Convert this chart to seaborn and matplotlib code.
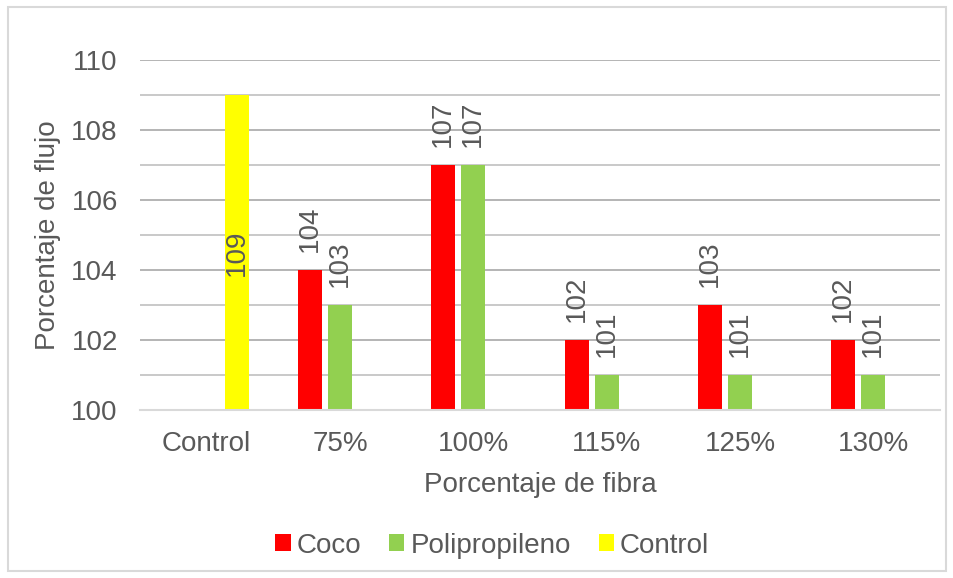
import matplotlib
matplotlib.use("Agg")
import matplotlib.pyplot as plt
from matplotlib.patches import Rectangle, Patch
from matplotlib.ticker import MultipleLocator
import seaborn as sns
import pandas as pd

# Flow percentage by fibre percentage and fibre type
categories = ["Control", "75%", "100%", "115%", "125%", "130%"]
series = ["Coco", "Polipropileno", "Control"]
coco = [None, 104, 107, 102, 103, 102]
polipropileno = [None, 103, 107, 101, 101, 101]
control = [109, None, None, None, None, None]

colors = {"Coco": "#FF0000", "Polipropileno": "#92D050", "Control": "#FFFF00"}
text_color = "#595959"
fs = 20

rows = []
for name, vals in zip(series, [coco, polipropileno, control]):
    for cat, v in zip(categories, vals):
        if v is not None:
            rows.append({"fibra": cat, "serie": name, "flujo": v})
df = pd.DataFrame(rows)

sns.set_theme(style="white")
plt.rcParams["font.family"] = ["Liberation Sans", "DejaVu Sans"]
plt.rcParams["text.color"] = text_color

fig = plt.figure(figsize=(9.54, 5.78), dpi=100)
ax = fig.add_axes([0.1468, 0.2907, 0.8385, 0.6055])

sns.barplot(data=df, x="fibra", y="flujo", hue="serie", order=categories,
            hue_order=series, palette=colors, width=0.675, gap=0.2,
            saturation=1, dodge=True, errorbar=None, legend=False, ax=ax,
            linewidth=0)

ax.set_ylim(100, 110)
ax.set_xlim(-0.5, len(categories) - 0.5)
ax.yaxis.set_major_locator(MultipleLocator(2))
ax.yaxis.set_minor_locator(MultipleLocator(1))
ax.grid(axis="y", which="major", color="#a8a8a8", linewidth=1.2, zorder=0)
ax.grid(axis="y", which="minor", color="#c0c0c0", linewidth=1.2, zorder=0)
ax.set_axisbelow(True)
for s in ["left", "right", "top"]:
    ax.spines[s].set_visible(False)
ax.spines["bottom"].set_color("#d9d9d9")
ax.spines["bottom"].set_linewidth(1.5)
ax.tick_params(axis="both", which="both", length=0, labelsize=fs,
               labelcolor=text_color)
ax.tick_params(axis="y", pad=16)
ax.tick_params(axis="x", pad=15)

ax.set_xlabel("Porcentaje de fibra", fontsize=fs, color=text_color, va="center")
ax.set_ylabel("Porcentaje de flujo", fontsize=fs, color=text_color, va="center")
ax.xaxis.set_label_coords(0.5, -0.214)
ax.yaxis.set_label_coords(-0.115, 0.5)

# Value labels: above the bars for fibre series, centred inside the control bar
for container, name in zip(ax.containers, series):
    if name == "Control":
        for bar in container:
            h = bar.get_height()
            if h != h:
                continue
            x = bar.get_x() + bar.get_width() / 2
            ax.text(x, (ax.get_ylim()[0] + h) / 2, f"{h:.0f}", rotation=90,
                    ha="center", va="center", fontsize=fs, color=text_color)
    else:
        ax.bar_label(container, fmt="%.0f", rotation=90, padding=13,
                     fontsize=fs, color=text_color)

handles = [Patch(facecolor=colors[s], edgecolor="none") for s in series]
fig.legend(handles, series, loc="center", bbox_to_anchor=(0.516, 0.056),
           ncol=3, frameon=False, fontsize=fs, handlelength=0.55,
           handleheight=0.55, handletextpad=0.22, columnspacing=1.0,
           labelcolor=text_color)

fig.patches.append(Rectangle((0.008, 0.012), 0.984, 0.976,
                             transform=fig.transFigure, fill=False,
                             edgecolor="#d9d9d9", linewidth=1.5))

fig.savefig("out.png", dpi=100)
